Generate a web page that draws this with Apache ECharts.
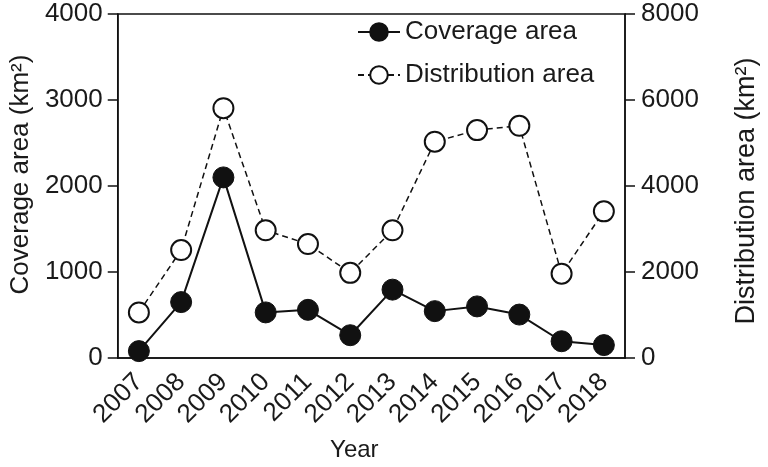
<!DOCTYPE html>
<html>
<head>
<meta charset="utf-8">
<script src="https://cdn.jsdelivr.net/npm/echarts@6/dist/echarts.min.js"></script>
<style>html,body{margin:0;padding:0;background:#fff}#c{width:768px;height:467px}</style>
</head>
<body>
<div id="c"></div>
<script>
const years = ['2007','2008','2009','2010','2011','2012','2013','2014','2015','2016','2017','2018'];
const coverage = [80, 650, 2100, 530, 560, 265, 795, 545, 600, 505, 195, 150];
const distribution = [1060, 2510, 5810, 2970, 2650, 1980, 2970, 5030, 5300, 5400, 1960, 3410];
const font = 'Liberation Sans, Arial, sans-serif';
const txt = '#1a1a1a';
const plain = v => String(v);

const chart = echarts.init(document.getElementById('c'));
chart.setOption({
  animation: false,
  backgroundColor: '#fff',
  textStyle: { fontFamily: font, color: txt },
  grid: { left: 110, right: 132, top: 14, bottom: 106, show: true, borderColor: '#111', borderWidth: 1.5, backgroundColor: 'transparent' },
  legend: {
    orient: 'vertical', left: 352, top: 14, itemWidth: 42, itemHeight: 22, itemGap: 17,
    textStyle: { fontFamily: font, fontSize: 26, color: txt, padding: [0,0,0,0] },
    data: ['Coverage area', 'Distribution area']
  },
  xAxis: {
    type: 'category', data: years, boundaryGap: true,
    name: 'Year', nameLocation: 'middle', nameGap: 80,
    nameTextStyle: { fontFamily: font, fontSize: 24, color: txt, padding: [0, 34, 0, 0] },
    axisLine: { lineStyle: { color: '#111', width: 1.5 } },
    axisTick: { alignWithLabel: true, interval: 0, length: 9, lineStyle: { color: '#111', width: 1.5 } },
    axisLabel: { rotate: 45, interval: 0, fontFamily: font, fontSize: 26, color: txt, margin: 20 },
    splitLine: { show: false }
  },
  yAxis: [{
    type: 'value', min: 0, max: 4000, interval: 1000, position: 'left',
    name: 'Coverage area (km²)', nameLocation: 'middle', nameGap: 82,
    nameTextStyle: { fontFamily: font, fontSize: 26, color: txt, padding: [0, 0, 0, 23] },
    axisLine: { show: true, lineStyle: { color: '#111', width: 1.5 } },
    axisTick: { show: true, length: 10, lineStyle: { color: '#111', width: 1.5 } },
    axisLabel: { fontFamily: font, fontSize: 26, color: txt, margin: 15, formatter: plain },
    splitLine: { show: false }
  }, {
    type: 'value', min: 0, max: 8000, interval: 2000, position: 'right',
    name: 'Distribution area (km²)', nameLocation: 'middle', nameGap: 108,
    nameTextStyle: { fontFamily: font, fontSize: 27, color: txt, padding: [0, 10, 0, 0] },
    axisLine: { show: true, lineStyle: { color: '#111', width: 1.5 } },
    axisTick: { show: true, length: 10, lineStyle: { color: '#111', width: 1.5 } },
    axisLabel: { fontFamily: font, fontSize: 26, color: txt, margin: 16, formatter: plain },
    splitLine: { show: false }
  }],
  series: [{
    name: 'Distribution area', type: 'line', yAxisIndex: 1, data: distribution,
    symbol: 'circle', symbolSize: 20,
    lineStyle: { color: '#111', width: 1.5, type: [6, 4] },
    itemStyle: { color: '#fff', borderColor: '#111', borderWidth: 2 },
    z: 2
  }, {
    name: 'Coverage area', type: 'line', yAxisIndex: 0, data: coverage,
    symbol: 'circle', symbolSize: 21,
    lineStyle: { color: '#111', width: 2 },
    itemStyle: { color: '#111', borderColor: '#111', borderWidth: 1 },
    z: 3
  }]
});
</script>
</body>
</html>
